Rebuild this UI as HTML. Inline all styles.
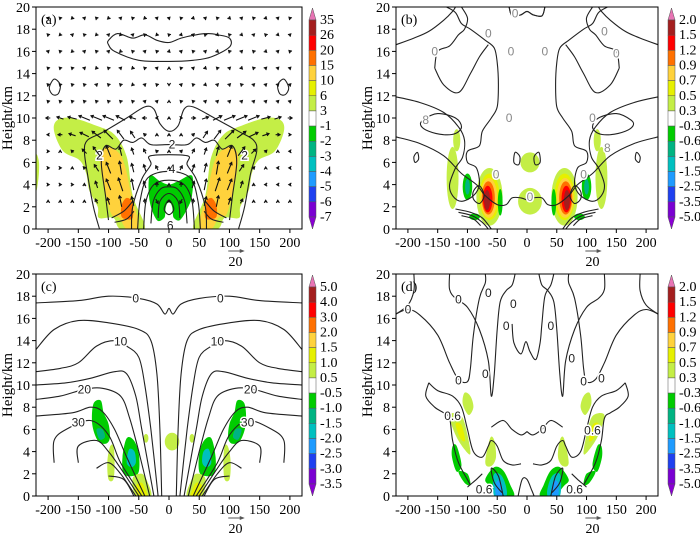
<!DOCTYPE html>
<html><head><meta charset="utf-8">
<style>
html,body{margin:0;padding:0;background:#fff;}
svg{display:block;}
svg text{font-family:"Liberation Serif",serif;}
</style></head>
<body>
<svg id="fig" width="700" height="537" viewBox="0 0 700 537" xmlns="http://www.w3.org/2000/svg"></svg>
<script>
// ---------- data ----------
const xTicks = [-200,-150,-100,-50,0,50,100,150,200];
const yTicks = [0,2,4,6,8,10,12,14,16,18,20];
const cbLabelsA = ["35","26","20","15","10","6","3","-1","-2","-3","-4","-5","-6","-7"];
const cbLabelsB = ["2.0","1.5","1.2","0.9","0.7","0.5","0.3","-0.3","-0.6","-1.0","-1.5","-2.5","-3.5","-5.0"];
const cbLabelsC = ["5.0","4.0","3.0","2.0","1.5","1.0","0.5","-0.5","-1.0","-1.5","-2.0","-2.5","-3.0","-3.5"];
const cbColors = ["#a41e1e","#ff0000","#ff7000","#ffd23c","#e6f000","#c4ee46","#ffffff","#00cc00","#00b482","#00c0c0","#1e9bff","#1e40f0","#7a00d2"];
const vecXs = [0,20,40,60,80,100,120,140,160,180,200];
const vecZLow = [10,8.5,7,5.5,4,2.5];
const vecULow = [[0,1,2,3,4,5,5,5,4,3,2],[0,0,1,2,3,4,4,4,3,2,1],[0,1,1,1,1,2,3,2,1,0,-1],[0,1,1,1,1,2,2,1,0,-1,-1],[0,0,1,1,2,2,1,0,-1,-1,-1],[0,-1,0,1,1,1,1,0,0,0,0]];
const vecWLow = [[0,0,0,1,2,2,2,2,1,1,0],[0,0,1,3,4,4,3,2,1,0,0],[0,1,2,3,4,5,4,2,1,0,0],[0,2,3,4,6,5,3,1,0,0,0],[0,2,3,5,6,5,3,1,0,0,0],[0,-2,2,4,5,3,2,0,0,0,0]];
const vecZUp = [19,17.5,16,14.5,13,11.5];
const vecUUp = [[1,-1,1,1,-1,1,1,-1,1,1,-1],[-1,1,1,-1,1,-1,1,1,-1,1,1],[1,1,-1,1,1,-1,1,-1,1,1,-1],[0,-1,1,1,-1,1,1,-1,1,1,1],[0,1,-1,1,1,1,-1,1,1,1,1],[0,-1,-1,1,1,1,1,1,1,1,1]];
const vecWUp = [[1,1,-1,1,1,-1,1,1,-1,1,1],[1,-1,1,1,-1,1,-1,1,1,-1,1],[-1,1,1,1,-1,1,1,1,-1,1,1],[1,1,1,-1,1,1,-1,1,1,1,1],[-1,1,1,-1,1,1,1,1,1,1,1],[1,1,1,1,1,1,1,1,1,1,1]];

const panels = {
 a:{L:36,R:302,T:7,B:229,tag:"(a)",cb:cbLabelsA,cbx:309},
 b:{L:396,R:658,T:7,B:229,tag:"(b)",cb:cbLabelsB,cbx:668},
 c:{L:36,R:302,T:274,B:496,tag:"(c)",cb:cbLabelsC,cbx:309},
 d:{L:396,R:658,T:274,B:496,tag:"(d)",cb:cbLabelsB,cbx:668}
};
const G="#c4ee46",Y="#e6f000",O="#ffd23c",OR="#ff7000",RD="#ff0000",DR="#a41e1e",GN="#00cc00",TG="#00b482",CY="#00c0c0",LB="#1e9bff";
const fillsA = [
 {c:G,m:1,p:[[40,0],[60,3],[70,6.5],[90,8.5],[120,9.3],[160,10],[185,9.8],[190,8.8],[175,7],[148,6.2],[137,5],[132,3.5],[118,2],[116,1],[92,1],[80,0]]},
 {c:O,m:1,p:[[50,0.3],[62,3],[72,5.5],[82,6.8],[100,7.4],[114,6.8],[112,5],[104,3],[95,1.3],[82,1],[70,0]]},
 {c:OR,m:1,p:[[60,1],[61,2.4],[70,2.8],[78,2.2],[79,1.2],[72,0.9]]},
 {c:G,m:0,p:[[-220,3.5],[-216,4.5],[-215,6],[-220,6.6]]},
 {c:GN,m:0,p:[[-32,4.8],[-15,4.3],[0,4],[15,4.3],[38,4.8],[38,3],[30,1.8],[18,0.8],[8,1],[5,1.6],[-5,1.6],[-8,1],[-20,0.8],[-32,2.5]]},
 {c:"#fff",m:0,p:[[-6,1.6],[-4,2.2],[0,2.4],[4,2.2],[6,1.6],[3,1.2],[-3,1.2]]}
];
const linesA = [
 {m:0,z:1,p:[[-100,17],[-85,17.6],[-60,17.2],[-40,17.5],[-20,17],[0,16.8],[20,17.2],[45,17.5],[65,17.6],[80,17.5],[100,17.2],[100,16.4],[70,15.5],[40,15.2],[0,15.1],[-50,15.2],[-90,16],[-100,16.6]]},
 {m:1,z:1,p:[[-198,12.7],[-190,13.5],[-180,13],[-183,12.2],[-192,12.1]]},
 {m:0,z:0,p:[[-115,0],[-125,2],[-135,5],[-140,7],[-135,8],[-110,8.7],[-70,10],[-40,11],[-25,10.8],[-15,9.5],[0,8.8],[15,9.3],[25,10.8],[40,11],[75,10],[115,8.8],[140,8],[145,7],[135,5],[125,2],[115,0]]},
 {m:0,z:0,p:[[-100,0.8],[-105,3],[-112,6],[-105,7.5],[-88,7.2],[-75,8],[-60,7.8],[-45,8.2],[-30,7.6],[0,7.6],[30,7.6],[45,8.2],[60,7.8],[75,8],[88,7.2],[105,7.5],[112,6],[105,3],[100,0.8]]},
 {m:0,z:0,p:[[-62,0],[-60,2],[-45,4.5],[-30,5.8],[-30,6.6],[30,6.6],[30,5.8],[45,4.5],[60,2],[62,0]]},
 {m:0,z:0,p:[[-52,0],[-48,2.5],[-35,4.6],[0,5.2],[35,4.6],[48,2.5],[52,0]]},
 {m:0,z:0,p:[[-42,0],[-38,2.5],[-25,4],[0,4.4],[25,4],[38,2.5],[42,0]]},
 {m:0,z:0,p:[[-30,0.5],[-26,2.5],[-14,3.6],[0,3.8],[14,3.6],[26,2.5],[30,0.5]]},
 {m:0,z:0,p:[[-18,1],[-15,2.5],[0,3.2],[15,2.5],[18,1]]},
 {m:0,z:1,p:[[-8,1.8],[0,2.6],[8,1.8],[0,1.3]]},
 {m:1,z:0,p:[[-95,1],[-75,1.6],[-60,2.5]]},
 {m:1,z:0,p:[[-90,0.6],[-70,0.9],[-58,1.6]]}
];
const fillsB = [
 {c:G,m:1,e:[63,2.9,22,2.6]},{c:Y,m:1,e:[63,2.9,17,2.1]},{c:O,m:1,e:[64,2.8,14,1.8]},{c:OR,m:1,e:[65,2.8,11,1.5]},{c:RD,m:1,e:[66,2.7,8,1.2]},{c:DR,m:1,e:[67,2.6,5,0.9]},
 {c:GN,m:1,e:[100,3.8,8,1.2]},{c:TG,m:1,e:[100,3.8,4,0.7]},{c:GN,m:1,e:[45,2.4,4,1.2]},{c:GN,m:1,e:[88,1.1,9,0.3]},
 {c:G,m:1,e:[125,4.6,10,2.8]},{c:G,m:1,e:[118,8,6,1]},{c:G,m:0,e:[5,6,16,0.9]},{c:G,m:0,e:[5,2.5,20,1.2]}
];
const linesB = [
 {m:1,z:0,p:[[-220,16.6],[-190,17.2],[-165,17.8],[-140,18.8],[-125,19.6],[-120,20]]},
 {m:1,z:0,p:[[-220,11.9],[-180,11.4],[-140,10.5],[-115,9.2],[-105,8],[-108,6.5],[-120,5.5],[-130,4],[-125,3],[-110,2.5],[-90,3],[-80,4],[-85,5.5],[-100,6],[-100,7],[-80,7.5],[-75,8.8],[-60,10],[-50,11],[-48,13],[-50,15],[-55,16.3],[-70,17],[-95,18],[-110,18.5],[-120,19.5],[-135,20]]},
 {m:1,z:0,p:[[-220,8.3],[-180,7.7],[-140,6.6],[-110,5],[-85,4],[-70,3],[-50,2.2],[-35,2.2],[-25,2.8],[-10,2.8],[0,2.6]]},
 {m:1,z:1,p:[[-175,9.8],[-150,10.4],[-120,10],[-110,9.2],[-120,8.6],[-140,8.5],[-165,8.8],[-178,9.3]]},
 {m:1,z:1,p:[[-190,6.5],[-184,6.9],[-182,6.3],[-188,6]]},
 {m:1,z:0,p:[[-120,1.8],[-95,1.5],[-75,1],[-60,0]]},
 {m:1,z:0,p:[[-115,1.5],[-92,1.2],[-75,0.6],[-65,0]]},
 {m:1,z:0,p:[[-110,1.2],[-90,0.9],[-78,0.3]]},
 {m:1,z:1,p:[[-90,3.4],[-80,3.9],[-72,3],[-80,2.3],[-90,2.7]]},
 {m:1,z:1,p:[[-20,6.9],[-12,6.5],[-14,5.8],[-22,6]]},
 {m:1,z:0,p:[[-155,14.5],[-150,16],[-130,16.5],[-115,17.5],[-105,18],[-100,19],[-110,20]]},
 {m:1,z:0,p:[[-30,20],[-25,19.2],[-10,19.3],[0,19.6],[10,19.3],[25,19.2],[30,20]]},
 {m:1,z:0,p:[[-155,14.5],[-140,13],[-115,12.3],[-95,14],[-80,15.5],[-65,16.6]]}
];
const fillsC = [
 {c:GN,m:1,p:[[-125,8.3],[-113,8.6],[-108,7.5],[-100,6.5],[-98,5.2],[-105,4.7],[-118,5],[-127,6.5]]},
 {c:TG,m:1,p:[[-120,6],[-110,6],[-106,5.3],[-115,5.1]]},
 {c:GN,m:1,p:[[-70,5.2],[-58,5],[-50,3.8],[-50,2.2],[-60,1.8],[-75,2],[-77,3.5]]},
 {c:CY,m:1,p:[[-66,4.2],[-57,4],[-55,3],[-62,2.6],[-70,3]]},
 {c:G,m:1,p:[[-98,4.4],[-92,4.5],[-90,3],[-92,1.5],[-100,1.5],[-102,3]]},
 {c:G,m:0,e:[5,4.9,12,0.8]},{c:G,m:1,e:[38,5.2,4,0.4]},
 {c:G,m:1,p:[[-60,1.6],[-45,2],[-35,1.2],[-30,0],[-55,0]]},
 {c:Y,m:1,p:[[-55,0.9],[-45,1.2],[-38,0.5],[-36,0],[-52,0]]}
];
const linesC = [
 {m:0,z:0,p:[[-220,17.4],[-150,17.6],[-100,18],[-50,17.8],[-20,17.3],[-7,16.4],[0,16.9],[7,16.4],[20,17.3],[50,17.8],[100,18],[150,17.6],[220,17.4]]},
 {m:1,z:0,p:[[-220,13.2],[-190,15],[-150,15.8],[-100,15.6],[-50,15],[-30,14],[-20,11],[-15,6],[-12,0]]},
 {m:1,z:0,p:[[-220,11.2],[-180,11.5],[-150,12],[-120,13.5],[-90,14],[-70,13.5],[-50,12.5],[-40,10],[-30,6],[-18,0]]},
 {m:1,z:0,p:[[-220,10],[-170,10.2],[-130,10.6],[-90,11.2],[-70,11],[-55,9],[-45,6],[-25,0]]},
 {m:1,z:0,p:[[-220,8.7],[-180,9],[-140,9.6],[-110,9.7],[-80,9],[-65,7],[-50,4],[-32,0]]},
 {m:1,z:0,p:[[-220,7.2],[-160,7.5],[-130,8],[-110,7.6],[-90,6],[-70,3.5],[-40,0]]},
 {m:1,z:0,p:[[-190,3],[-190,5],[-170,6],[-130,6.8],[-100,5.5],[-80,3],[-45,0]]},
 {m:1,z:0,p:[[-150,3],[-150,4.5],[-120,5],[-100,4],[-80,2.5],[-50,0]]},
 {m:1,z:0,p:[[-120,2.5],[-100,3],[-80,2],[-55,0]]},
 {m:1,z:0,p:[[-100,1.8],[-75,1.5],[-58,0]]}
];
const fillsD = [
 {c:G,m:1,p:[[-105,9.3],[-95,9],[-90,8],[-98,7.3],[-108,8.3]]},
 {c:G,m:1,p:[[-130,7.3],[-110,7.2],[-100,5.5],[-95,3.8],[-105,4.2],[-120,5.5]]},
 {c:Y,m:1,p:[[-120,6.5],[-110,6.4],[-104,5],[-112,5.2]]},
 {c:G,m:1,p:[[-70,3],[-62,5.2],[-55,5],[-52,3.5],[-60,2.7]]},
 {c:GN,m:1,p:[[-125,4.5],[-118,4.5],[-110,2.8],[-118,2.2],[-126,3.5]]},
 {c:GN,m:1,p:[[-115,2.2],[-100,2],[-95,1],[-105,1.2]]},
 {c:GN,m:1,p:[[-70,1.5],[-55,2.6],[-40,2.3],[-28,1],[-22,0],[-45,0],[-62,0.9]]},
 {c:CY,m:1,p:[[-56,1.9],[-44,1.9],[-36,1],[-35,0],[-55,0]]},
 {c:LB,m:1,p:[[-52,1.2],[-44,1.3],[-40,0],[-52,0]]}
];
const linesD = [
 {m:1,z:0,p:[[-220,16.4],[-200,17.2],[-190,18.5],[-190,20]]},
 {m:1,z:0,p:[[-220,16.4],[-200,16.8],[-180,16.3],[-150,14.5],[-130,12],[-115,10.5],[-100,10.3],[-95,11.5],[-90,14.5],[-80,17.8],[-70,19.2],[-70,20]]},
 {m:1,z:0,p:[[-130,20],[-130,18.6],[-120,17.8],[-100,17],[-80,15],[-65,12.2],[-60,9],[-55,11],[-50,15],[-45,17.5],[-35,18.5],[-25,19],[-20,20]]},
 {m:0,z:0,p:[[-25,15.5],[-22,13.8],[-10,12.8],[-2,13.9],[5,13],[15,12.3],[22,13.8],[25,15.5],[30,18],[40,19],[45,20]]},
 {m:1,z:0,p:[[-165,10.2],[-170,9],[-155,8],[-140,7.5],[-130,7],[-125,5],[-115,3],[-95,1]]},
 {m:1,z:0,p:[[-165,10.2],[-150,9.5],[-125,9],[-110,8],[-100,6],[-90,4],[-75,3.5],[-65,4.5],[-60,5],[-50,4.5],[-40,3.2],[-25,2.8],[-10,2.9]]},
 {m:1,z:0,p:[[-100,0.8],[-85,1.5],[-75,2]]},
 {m:1,z:0,p:[[-40,0],[-48,1.8],[-60,2.5],[-55,1.2],[-42,0.3]]},
 {m:0,z:0,p:[[-15,0],[-8,1.5],[0,1.5],[8,0.5],[12,0]]},
 {m:1,z:0,p:[[-60,6.2],[-40,6.8],[-25,6],[-10,5.5],[0,5.8]]}
];
const labelsA=[["2",-115,6.6],["2",125,6.6],["2",5,7.6],["4",5,5.4],["6",2,0.3]];
const labelsB=[["0",-20,19.4],["0",-65,17.6],["0",-155,16],["0",-27,16],["0",30,16],["0",130,17.8],["0",150,15.8],["0",-30,10],["0",110,10],["8",-170,9.8],["8",135,7.3],["0",-52,4.9],["0",95,4.9],["0",5,2.9]];
const labelsC=[["0",-55,17.8],["0",85,17.8],["10",-80,13.9],["10",80,13.9],["20",-140,9.6],["20",135,9.6],["30",-150,6.6],["30",130,6.6]];
const labelsD=[["0",-200,16.8],["0",-115,10.4],["0",-70,11],["0",-115,17.7],["0",-65,18.3],["0",-23,17.3],["0",-35,15.3],["0",40,15.3],["0",75,12.4],["0",95,10.3],["0",125,10.6],["0",27,6],["0.6",-125,7.2],["0.6",110,5.9],["0.6",-72,0.6],["0.6",80,0.6]];

// ---------- drawing ----------
const NS="http://www.w3.org/2000/svg";
const svg=document.getElementById('fig');
function mk(tag,attrs,parent){const e=document.createElementNS(NS,tag);for(const k in attrs)e.setAttribute(k,attrs[k]);(parent||svg).appendChild(e);return e;}
function sx(P,x){return P.L+(x+220)/440*(P.R-P.L);}
function sz(P,z){return P.B-z/20*(P.B-P.T);}
function smoothPath(P,pts,flip,closed){
 const q=pts.map(p=>[sx(P,flip?-p[0]:p[0]),sz(P,p[1])]);
 const n=q.length;
 const get=i=>closed?q[(i+n)%n]:q[Math.max(0,Math.min(n-1,i))];
 let d='M'+q[0][0].toFixed(1)+','+q[0][1].toFixed(1);
 const segs=closed?n:n-1;
 for(let i=0;i<segs;i++){
  const p0=get(i-1),p1=get(i),p2=get(i+1),p3=get(i+2);
  const c1=[p1[0]+(p2[0]-p0[0])/6,p1[1]+(p2[1]-p0[1])/6];
  const c2=[p2[0]-(p3[0]-p1[0])/6,p2[1]-(p3[1]-p1[1])/6];
  d+='C'+c1[0].toFixed(1)+','+c1[1].toFixed(1)+' '+c2[0].toFixed(1)+','+c2[1].toFixed(1)+' '+p2[0].toFixed(1)+','+p2[1].toFixed(1);
 }
 if(closed)d+='Z';
 return d;
}

function drawPanel(key,fills,lines,labels){
 const P=panels[key];
 const g=mk('g',{});
 
 
 const clipId='clip-'+key;
 const cp=mk('clipPath',{id:clipId},g);mk('rect',{x:P.L,y:P.T,width:P.R-P.L,height:P.B-P.T},cp);
 const plot=mk('g',{'clip-path':'url(#'+clipId+')'},g);
 
 
 fills.forEach(f=>{
  const flips=f.m?[false,true]:[false];
  flips.forEach(fl=>{
   let el;
   if(f.e){el=mk('ellipse',{cx:sx(P,fl?-f.e[0]:f.e[0]),cy:sz(P,f.e[1]),rx:f.e[2]/440*(P.R-P.L),ry:f.e[3]/20*(P.B-P.T),fill:f.c},plot);}
   else{el=mk('path',{d:smoothPath(P,f.p,fl,true),fill:f.c},plot);}
   
   
  });
 });
 lines.forEach(l=>{
  const flips=l.m?[false,true]:[false];
  flips.forEach(fl=>{
   const el=mk('path',{d:smoothPath(P,l.p,fl,!!l.z),fill:'none',stroke:'#222','stroke-width':1.1,'stroke-linejoin':'round'},plot);
   
   
  });
 });
 labels.forEach(lb=>{
  const t=mk('text',{x:sx(P,lb[1]),y:sz(P,lb[2])+4,'font-size':12,'text-anchor':'middle',fill:key==='b'?'#888':'#222',style:'font-family:"Liberation Sans",sans-serif',stroke:'#fff','stroke-width':3,'paint-order':'stroke'},plot);
  t.textContent=lb[0];
  
  
 });
 const fr=mk('rect',{x:P.L,y:P.T,width:P.R-P.L,height:P.B-P.T,fill:'none',stroke:'#000','stroke-width':1},g);
 
 
 xTicks.forEach(v=>{
  const X=sx(P,v);
  mk('line',{x1:X,x2:X,y1:P.B,y2:P.B+4,stroke:'#000'},g);
  const t=mk('text',{x:X,y:P.B+18,'font-size':14,'text-anchor':'middle'},g);
  t.textContent=v;
  
  
 });
 yTicks.forEach(v=>{
  const Y=sz(P,v);
  mk('line',{x1:P.L-4,x2:P.L,y1:Y,y2:Y,stroke:'#000'},g);
  const t=mk('text',{x:P.L-6,y:Y+5,'font-size':14,'text-anchor':'end'},g);
  t.textContent=v;
  
  
 });
 const yl=mk('text',{x:0,y:0,'font-size':15,'text-anchor':'middle',transform:'translate('+(P.L-24)+','+((P.T+P.B)/2)+') rotate(-90)'},g);
 yl.textContent='Height/km';
 
 
 const tg=mk('text',{x:P.L+5,y:P.T+17,'font-size':14},g);
 tg.textContent=P.tag;
 
 
 const ax1=sx(P,98),ax2=sx(P,122),ay=P.B+22;
 const ra=mk('g',{},g);
 
 
 mk('line',{x1:ax1,x2:ax2,y1:ay,y2:ay,stroke:'#555','stroke-width':1},ra);
 mk('polygon',{points:(ax2+2)+','+ay+' '+(ax2-3)+','+(ay-2)+' '+(ax2-3)+','+(ay+2),fill:'#555'},ra);
 const rt=mk('text',{x:(ax1+ax2)/2,y:ay+15,'font-size':14,'text-anchor':'middle'},ra);
 rt.textContent='20';
 const cb=mk('g',{},g);
 
 
 const cx=P.cbx,cw=7,top=P.T+13,bh=(P.B-P.T-25)/13;
 mk('polygon',{points:cx+','+top+' '+(cx+cw)+','+top+' '+(cx+cw/2)+','+(top-12),fill:'#e874b4',stroke:'#555','stroke-width':0.5},cb);
 cbColors.forEach((c,i)=>{
  const r=mk('rect',{x:cx,y:top+i*bh,width:cw,height:bh,fill:c,stroke:'#555','stroke-width':0.5},cb);
  
  
 });
 const bot=top+13*bh;
 mk('polygon',{points:cx+','+bot+' '+(cx+cw)+','+bot+' '+(cx+cw/2)+','+(bot+12),fill:'#8a00d4',stroke:'#555','stroke-width':0.5},cb);
 P.cb.forEach((s,i)=>{
  const t=mk('text',{x:cx+11,y:top+i*bh+4,'font-size':14},cb);
  t.textContent=s;
  
  
 });
 return {P,plot};
}

const A=drawPanel('a',fillsA,linesA,labelsA);
drawPanel('b',fillsB,linesB,labelsB);
drawPanel('c',fillsC,linesC,labelsC);
drawPanel('d',fillsD,linesD,labelsD);

function arrow(P,parent,x,z,u,w,sc){
 const X=sx(P,x),Z=sz(P,z);
 let dx=u*sc,dy=-w*sc;let L=Math.hypot(dx,dy);
 if(L<0.1){dx=0;dy=-2;L=2;}
 const ux=dx/L,uy=dy/L;
 const x0=X-dx/2,y0=Z-dy/2,x1=X+dx/2,y1=Z+dy/2;
 const h=2.6;
 const d='M'+x0.toFixed(1)+','+y0.toFixed(1)+'L'+x1.toFixed(1)+','+y1.toFixed(1)+
  'M'+(x1-h*ux+h*0.6*uy).toFixed(1)+','+(y1-h*uy-h*0.6*ux).toFixed(1)+'L'+x1.toFixed(1)+','+y1.toFixed(1)+
  'L'+(x1-h*ux-h*0.6*uy).toFixed(1)+','+(y1-h*uy+h*0.6*ux).toFixed(1);
 const p=mk('path',{d:d,stroke:'#111','stroke-width':1.1,fill:'none'},parent);
 
 
}
const vg=mk('g',{},A.plot);


vecZUp.forEach((z,r)=>{vecXs.forEach((x,i)=>{
 arrow(A.P,vg,x,z,vecUUp[r][i],vecWUp[r][i],1.8);
 if(x>0)arrow(A.P,vg,-x,z,-vecUUp[r][i],vecWUp[r][i],1.8);
});});
vecZLow.forEach((z,r)=>{vecXs.forEach((x,i)=>{
 arrow(A.P,vg,x,z,vecULow[r][i],vecWLow[r][i],2.2);
 if(x>0)arrow(A.P,vg,-x,z,-vecULow[r][i],vecWLow[r][i],2.2);
});});
</script>
</body></html>
